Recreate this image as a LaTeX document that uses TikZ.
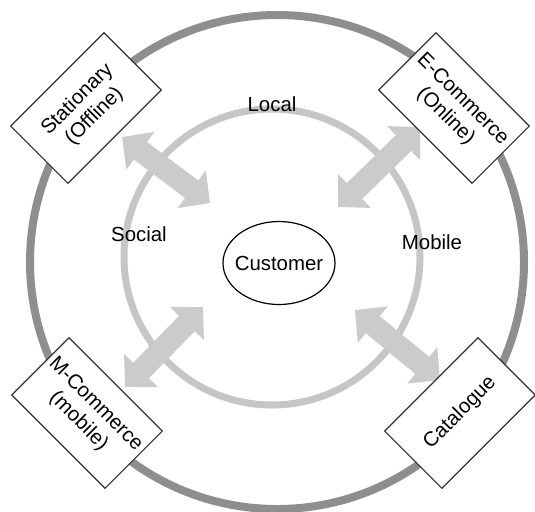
\documentclass[tikz,border=0pt]{standalone}
\usepackage{fontspec}
\setmainfont{Liberation Sans}
\usetikzlibrary{arrows.meta,shapes.geometric}

\definecolor{ringdark}{HTML}{8E8E8E}
\definecolor{ringlight}{HTML}{C6C6C6}
\definecolor{flowgray}{HTML}{CBCBCB}

\tikzset{
  channel/.style={draw=black!80, fill=white, line width=0.6pt, inner sep=0pt,
    minimum width=66pt, minimum height=40.5pt, align=center},
  flow/.style={draw=flowgray, line width=11pt,
    {Triangle[width=23pt,length=11.5pt]}-{Triangle[width=23pt,length=11.5pt]}},
}

\begin{document}
\begin{tikzpicture}[x=0.5pt, y=-0.5pt, font=\fontsize{10.2}{12}\selectfont]
\useasboundingbox (0,0) rectangle (535,511);

% rings
\draw [ringdark, line width=4pt] (277,262) circle [radius=247];
\draw [ringlight, line width=3.5pt] (272,257) circle [radius=148];

% ends of the arrows
\coordinate (tl1) at (122,137);
\coordinate (tl2) at (210,203);
\coordinate (tr1) at (338,207);
\coordinate (tr2) at (420,127);
\coordinate (bl1) at (203,307);
\coordinate (bl2) at (125,387);
\coordinate (br1) at (355,310);
\coordinate (br2) at (440,380);

\draw [flow] (tl1) -- (tl2);
\draw [flow] (tr1) -- (tr2);
\draw [flow] (bl1) -- (bl2);
\draw [flow] (br1) -- (br2);

\node (local) at (272,104) {Local};
\node (social) at (139,234) {Social};
\node (mobile) at (432,242) {Mobile};
\node (customer) [draw, ellipse, line width=0.6pt, inner sep=0pt,
  minimum width=56pt, minimum height=41.5pt, label=center:Customer] at (279,263) {};

\node (stationary) [channel, rotate=45] at (86,108) {Stationary\\(Offline)};
\node (ecommerce) [channel, rotate=-45] at (454,108) {E-Commerce\\(Online)};
\node (mcommerce) [channel, rotate=-45] at (87,413) {M-Commerce\\(mobile)};
\node (catalogue) [channel, rotate=45] at (460,413) {Catalogue};
\end{tikzpicture}
\end{document}
